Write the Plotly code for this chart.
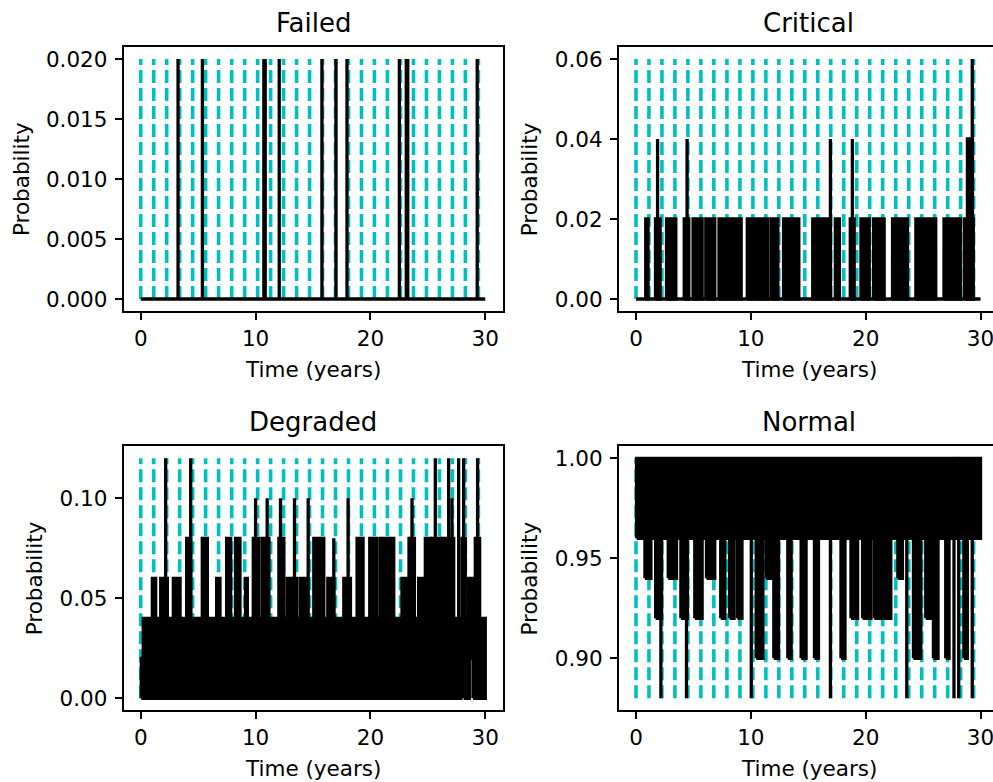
import plotly.graph_objects as go

FIG_W, FIG_H = 993, 782
FONT = "DejaVu Sans"

# Inspection times (years) marked with dashed vertical lines
inspection_times = [0.00, 1.13, 2.26, 3.39, 4.52, 5.65, 6.78, 7.92, 9.05, 10.18,
                    11.31, 12.44, 13.57, 14.70, 15.83, 16.96, 18.09, 19.22, 20.35,
                    21.48, 22.62, 23.75, 24.88, 26.01, 27.14, 28.27, 29.40]

# Each state's probability trace is stored as episodes: over [start, end] the
# estimated probability fluctuates between low and high (start == end is a single jump).

# --- Failed ---
failed_base = 0.0
failed_start = [3.25, 5.37, 10.72, 10.84, 12.06, 15.78, 17.00, 17.96, 22.52, 23.12, 23.25, 29.30]
failed_end = [3.25, 5.37, 10.72, 10.84, 12.06, 15.78, 17.00, 17.96, 22.52, 23.12, 23.25, 29.30]
failed_low = [0.0] * 12
failed_high = [0.02] * 12

# --- Critical ---
critical_base = 0.0
critical_start = [0.85, 1.70, 1.88, 2.66, 4.20, 4.45, 4.97, 6.08, 7.23, 8.44, 9.69, 10.33,
                  11.78, 12.85, 15.39, 16.93, 17.36, 18.66, 18.84, 19.59, 20.69, 22.34,
                  22.94, 24.37, 26.82, 28.62, 28.86, 29.28]
critical_end = [1.05, 2.10, 1.88, 3.47, 4.60, 4.45, 5.76, 6.86, 8.24, 9.16, 10.10, 11.49,
                12.35, 14.18, 16.93, 16.93, 17.71, 19.00, 18.84, 20.31, 21.61, 22.77,
                23.64, 26.10, 28.27, 29.37, 29.30, 29.28]
critical_low = [0.0] * 28
critical_high = [0.02, 0.02, 0.04, 0.02, 0.02, 0.04, 0.02, 0.02, 0.02, 0.02, 0.02, 0.02,
                 0.02, 0.02, 0.02, 0.04, 0.02, 0.02, 0.04, 0.02, 0.02, 0.02,
                 0.02, 0.02, 0.02, 0.02, 0.04, 0.06]

# --- Degraded ---
degraded_start = [0.05, 0.22, 27.88, 28.12, 28.61, 28.93,
                  1.01, 1.74, 2.17, 2.84, 4.00, 4.35, 5.36, 6.61, 7.48, 8.26, 9.13,
                  9.80, 10.00, 10.58, 11.01, 12.03, 12.17, 12.75, 13.30, 13.39, 13.91,
                  14.58, 15.07, 16.29, 16.81, 17.68, 18.06, 18.84, 19.94, 20.87, 22.75,
                  23.36, 23.62, 24.20, 24.78, 25.36, 25.65, 26.23, 26.81, 27.10, 27.68,
                  27.97, 28.12, 28.55, 29.13, 29.33]
degraded_end = [0.22, 27.88, 28.12, 28.61, 28.93, 30.00,
                1.30, 2.32, 2.17, 3.42, 4.35, 4.35, 5.80, 6.90, 7.83, 8.64, 9.28,
                10.29, 10.00, 11.16, 11.01, 12.46, 12.17, 13.10, 13.60, 13.39, 14.49,
                14.58, 15.94, 16.81, 16.81, 18.26, 18.06, 19.36, 20.58, 22.03, 23.19,
                23.83, 23.62, 24.64, 25.22, 26.09, 25.65, 27.25, 26.81, 27.10, 27.68,
                28.26, 28.12, 28.99, 29.51, 29.33]
degraded_low = [0.0, 0.0, 0.02, 0.0, 0.02, 0.0] + [0.04] * 46
degraded_high = [0.02, 0.04, 0.04, 0.04, 0.04, 0.04,
                 0.06, 0.06, 0.12, 0.06, 0.08, 0.12, 0.08, 0.06, 0.08, 0.08, 0.06,
                 0.08, 0.10, 0.08, 0.10, 0.08, 0.10, 0.06, 0.06, 0.10, 0.06,
                 0.10, 0.08, 0.06, 0.08, 0.06, 0.10, 0.08, 0.08, 0.08, 0.06,
                 0.08, 0.10, 0.06, 0.08, 0.08, 0.12, 0.08, 0.12, 0.10, 0.12,
                 0.08, 0.12, 0.06, 0.08, 0.12]

# --- Normal ---
normal_start = [0.05, 27.92, 28.12,
                0.78, 1.71, 2.17, 2.81, 3.91, 4.40, 5.12, 6.14, 7.38, 8.16, 8.83,
                10.04, 10.47, 11.34, 12.00, 13.22, 14.38, 15.54, 16.93, 17.85, 18.72,
                19.73, 20.75, 22.80, 23.58, 24.16, 25.23, 25.90, 26.97, 27.69, 28.10,
                28.55, 29.28]
normal_end = [27.92, 28.12, 30.00,
              1.30, 2.23, 2.17, 3.53, 4.48, 4.40, 5.76, 6.86, 7.73, 8.54, 9.23,
              10.04, 11.05, 11.78, 12.41, 13.51, 14.81, 15.89, 16.93, 18.20, 19.30,
              20.46, 22.19, 23.20, 23.58, 24.80, 25.67, 26.30, 27.26, 27.69, 28.10,
              28.85, 29.28]
normal_low = [0.96, 0.96, 0.96,
              0.94, 0.92, 0.88, 0.94, 0.92, 0.88, 0.92, 0.94, 0.92, 0.92, 0.92,
              0.88, 0.90, 0.94, 0.90, 0.90, 0.90, 0.90, 0.88, 0.90, 0.92,
              0.92, 0.92, 0.94, 0.88, 0.90, 0.92, 0.90, 0.90, 0.88, 0.88,
              0.90, 0.88]
normal_high = [1.00, 0.98, 1.00] + [0.96] * 33

panels = [
    dict(title="Failed", start=failed_start, end=failed_end, low=failed_low,
         high=failed_high, base=failed_base, vmin=0.0, vmax=0.02,
         yticks=[0.0, 0.005, 0.010, 0.015, 0.020], fmt=".3f"),
    dict(title="Critical", start=critical_start, end=critical_end, low=critical_low,
         high=critical_high, base=critical_base, vmin=0.0, vmax=0.06,
         yticks=[0.0, 0.02, 0.04, 0.06], fmt=".2f"),
    dict(title="Degraded", start=degraded_start, end=degraded_end, low=degraded_low,
         high=degraded_high, base=None, vmin=0.0, vmax=0.12,
         yticks=[0.0, 0.05, 0.10], fmt=".2f"),
    dict(title="Normal", start=normal_start, end=normal_end, low=normal_low,
         high=normal_high, base=None, vmin=0.88, vmax=1.00,
         yticks=[0.90, 0.95, 1.00], fmt=".2f"),
]

# Plot-area boxes in pixels: (left, top, right, bottom)
boxes = [
    (123.5, 47.0, 502.5, 311.0),
    (618.75, 47.0, 998.25, 311.0),
    (123.5, 446.3, 502.5, 710.3),
    (618.75, 446.3, 998.25, 710.3),
]
T_MIN, T_MAX = 0.0, 30.0
x_pad = 0.05 * (T_MAX - T_MIN)


def px_x(v):
    return v / FIG_W


def px_y(v):
    return 1 - v / FIG_H


def episodes_xy(start, end, low, high):
    xs, ys = [], []
    for t0, t1, lo, hi in zip(start, end, low, high):
        xs += [t0, t0, t1, t1, t0, None]
        ys += [lo, hi, hi, lo, lo, None]
    return xs, ys


fig = go.Figure()
layout_axes = {}
annotations = []

for i, (p, box) in enumerate(zip(panels, boxes)):
    n = "" if i == 0 else str(i + 1)
    xa, ya = "x" + n, "y" + n
    left, top, right, bottom = box

    # dashed inspection markers
    vx, vy = [], []
    for t in inspection_times:
        vx += [t, t, None]
        vy += [p["vmin"], p["vmax"], None]
    fig.add_trace(go.Scatter(x=vx, y=vy, mode="lines", xaxis=xa, yaxis=ya,
                             line=dict(color="#00bfbf", width=3.6, dash="13px,5px"),
                             hoverinfo="skip", showlegend=False))

    # probability trace
    if p["base"] is not None:
        fig.add_trace(go.Scatter(x=[T_MIN, T_MAX], y=[p["base"], p["base"]], mode="lines",
                                 xaxis=xa, yaxis=ya, line=dict(color="black", width=3.3),
                                 hoverinfo="skip", showlegend=False))
    ex, ey = episodes_xy(p["start"], p["end"], p["low"], p["high"])
    fig.add_trace(go.Scatter(x=ex, y=ey, mode="lines", fill="toself", fillcolor="black",
                             xaxis=xa, yaxis=ya, line=dict(color="black", width=3.3),
                             hoverinfo="skip", showlegend=False))

    # axes
    x_lo = T_MIN - x_pad
    x_scale = (502.5 - 123.5) / (T_MAX - T_MIN + 2 * x_pad)
    vis_right = min(right, FIG_W)
    x_hi = x_lo + (vis_right - left) / x_scale
    y_pad = 0.05 * (p["vmax"] - p["vmin"])
    right_col = i % 2 == 1
    layout_axes["xaxis" + n] = dict(
        domain=[px_x(left), px_x(vis_right)], range=[x_lo, x_hi], anchor=ya,
        tickvals=[0, 10, 20, 30], ticks="outside", ticklen=7, tickwidth=1.5,
        tickcolor="black", showline=True, linecolor="black", linewidth=1.5,
        mirror=True, showgrid=False, zeroline=False, ticklabeloverflow="allow",
        tickfont=dict(family=FONT, size=21.5, color="black"))
    layout_axes["yaxis" + n] = dict(
        domain=[px_y(bottom), px_y(top)],
        range=[p["vmin"] - y_pad, p["vmax"] + y_pad], anchor=xa,
        tickvals=p["yticks"], tickformat=p["fmt"], ticks="outside", ticklen=7,
        tickwidth=1.5, tickcolor="black", showline=True, linecolor="black",
        linewidth=1.5, mirror=not right_col, showgrid=False, zeroline=False,
        ticklabelstandoff=3,
        tickfont=dict(family=FONT, size=21.5, color="black"))

    cx = (left + right) / 2
    annotations.append(dict(text=p["title"], x=px_x(cx), y=px_y(top - 24.5),
                            xref="paper", yref="paper", showarrow=False,
                            xanchor="center", yanchor="middle",
                            font=dict(family=FONT, size=26, color="black")))
    annotations.append(dict(text="Time (years)", x=px_x(cx), y=px_y(bottom + 58),
                            xref="paper", yref="paper", showarrow=False,
                            xanchor="center", yanchor="middle",
                            font=dict(family=FONT, size=21.5, color="black")))
    label_off = 102.5 if p["fmt"] == ".3f" else 89.5
    annotations.append(dict(text="Probability", x=px_x(left - label_off), y=px_y((top + bottom) / 2),
                            xref="paper", yref="paper", showarrow=False, textangle=-90,
                            xanchor="center", yanchor="middle",
                            font=dict(family=FONT, size=21.5, color="black")))

fig.update_layout(width=FIG_W, height=FIG_H, margin=dict(l=0, r=0, t=0, b=0),
                  plot_bgcolor="white", paper_bgcolor="white",
                  annotations=annotations, **layout_axes)

fig.write_html("out.html")
